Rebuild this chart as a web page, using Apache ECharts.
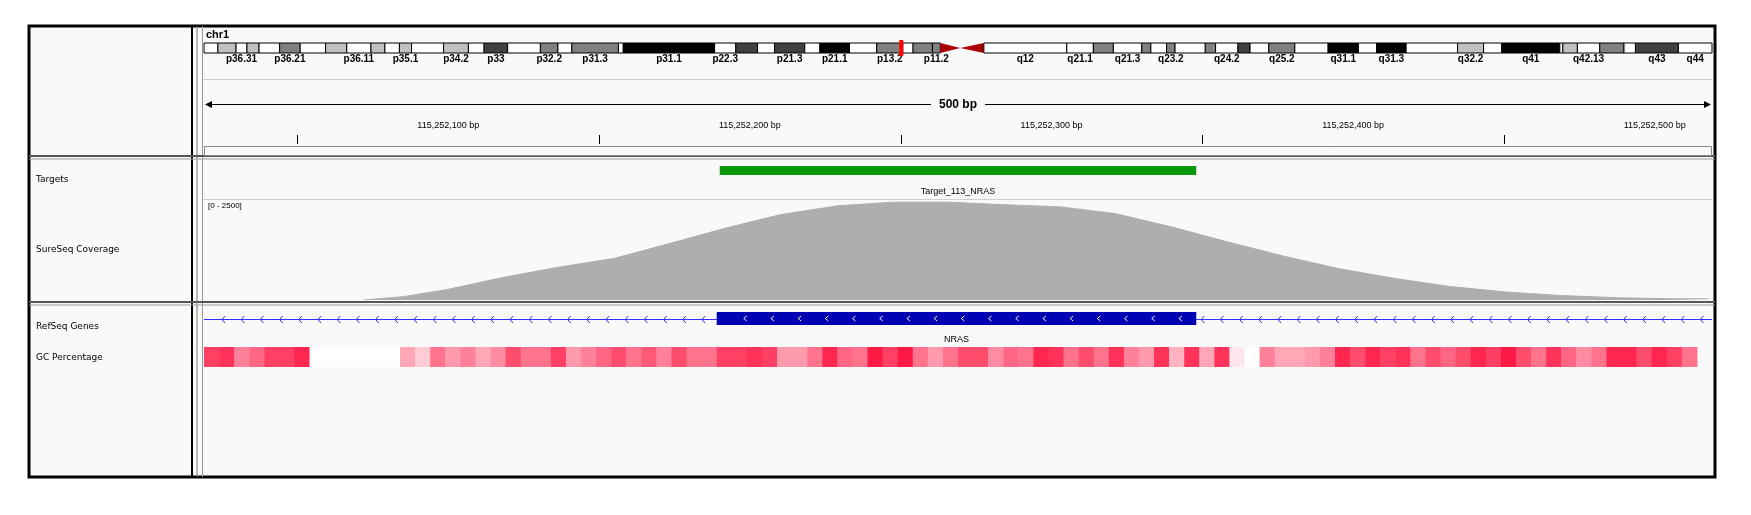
<!DOCTYPE html>
<html lang="en">
<head>
<meta charset="UTF-8" />
<title>IGV NRAS</title>
<script src="https://cdn.jsdelivr.net/npm/echarts@6/dist/echarts.min.js"></script>
<style>html,body{margin:0;background:#fff}</style>
</head>
<body>
<div id="main" style="width:1751px;height:515px;"></div>
<script>
// ---- data ----
var regionStart = 115252019, regionEnd = 115252519;
var rulerTicks = [115252050,115252150,115252250,115252350,115252450];
var rulerLabels = [115252100,115252200,115252300,115252400,115252500];

// chr1 cytobands (Mb)
var bandNames = ["p36.33","p36.32","p36.31","p36.23","p36.22","p36.21","p36.13","p36.12","p36.11","p35.3","p35.2","p35.1","p34.3","p34.2","p34.1","p33","p32.3","p32.2","p32.1","p31.3","p31.2","p31.1","p22.3","p22.2","p22.1","p21.3","p21.2","p21.1","p13.3","p13.2","p13.1","p12","p11.2","p11.1","q11","q12","q21.1","q21.2","q21.3","q22","q23.1","q23.2","q23.3","q24.1","q24.2","q24.3","q25.1","q25.2","q25.3","q31.1","q31.2","q31.3","q32.1","q32.2","q32.3","q41","q42.11","q42.12","q42.13","q42.2","q42.3","q43","q44"];
var bandStarts = [0,2.3,5.3,7.1,9.1,12.5,15.9,20.1,23.6,27.6,29.9,32.3,34.3,39.6,43.7,46.3,50.2,55.6,58.5,60.8,68.5,69.3,84.4,87.9,91.5,94.3,99.3,101.8,106.7,111.2,115.5,117.2,120.4,121.7,125,128.9,142.6,147,150.3,155,156.5,159.1,160.5,165.5,167.2,170.9,172.9,176,180.3,185.8,190.8,193.8,198.7,207.2,211.5,214.5,224.1,224.6,227,230.7,234.7,236.6,243.7];
var bandEnds = [2.3,5.3,7.1,9.1,12.5,15.9,20.1,23.6,27.6,29.9,32.3,34.3,39.6,43.7,46.3,50.2,55.6,58.5,60.8,68.5,69.3,84.4,87.9,91.5,94.3,99.3,101.8,106.7,111.2,115.5,117.2,120.4,121.7,125,128.9,142.6,147,150.3,155,156.5,159.1,160.5,165.5,167.2,170.9,172.9,176,180.3,185.8,190.8,193.8,198.7,207.2,211.5,214.5,224.1,224.6,227,230.7,234.7,236.6,243.7,249.25];
var bandStains = ["gneg","gpos25","gneg","gpos25","gneg","gpos50","gneg","gpos25","gneg","gpos25","gneg","gpos25","gneg","gpos25","gneg","gpos75","gneg","gpos50","gneg","gpos50","gneg","gpos100","gneg","gpos75","gneg","gpos75","gneg","gpos100","gneg","gpos50","gneg","gpos50","gpos50","acenR","acenL","gvar","gneg","gpos50","gneg","gpos50","gneg","gpos50","gneg","gpos50","gneg","gpos75","gneg","gpos50","gneg","gpos100","gneg","gpos100","gneg","gpos25","gneg","gpos100","gneg","gpos25","gneg","gpos50","gneg","gpos75","gneg"];
var shownBands = ["p36.31","p36.21","p36.11","p35.1","p34.2","p33","p32.2","p31.3","p31.1","p22.3","p21.3","p21.1","p13.2","p11.2","q12","q21.1","q21.3","q23.2","q24.2","q25.2","q31.1","q31.3","q32.2","q41","q42.13","q43","q44"];
var markerMb = 115.25;

var targetStart = 115252190, targetEnd = 115252348, targetName = "Target_113_NRAS";
var geneStart = 115252189, geneEnd = 115252348, geneName = "NRAS";

var covPos = [53,66,80,99,117,136,154,173,191,210,228,247,265,284,302,321,339,358,376,395,413,432,450,469,487,499];
var covVal = [0,83,250,555,805,1030,1390,1780,2110,2330,2420,2420,2360,2305,2140,1805,1445,1085,780,530,335,195,110,55,30,30];

var gcWindow = 5;
var gcVals = [0.75,0.8,0.5,0.6,0.75,0.75,0.85,0,0,0,0,0,0,0.35,0.2,0.55,0.4,0.5,0.35,0.45,
  0.7,0.55,0.55,0.75,0.4,0.5,0.6,0.7,0.55,0.65,0.5,0.7,0.55,0.55,0.75,0.75,0.8,0.75,0.4,0.4,
  0.55,0.85,0.6,0.55,0.9,0.75,0.9,0.55,0.4,0.55,0.7,0.7,0.45,0.6,0.55,0.85,0.8,0.55,0.7,0.55,
  0.8,0.5,0.4,0.8,0.3,0.8,0.35,0.8,0.1,0,0.5,0.35,0.35,0.4,0.5,0.85,0.7,0.85,0.75,0.8,
  0.55,0.7,0.6,0.7,0.85,0.75,0.9,0.7,0.55,0.8,0.6,0.45,0.55,0.85,0.85,0.7,0.85,0.75,0.55];

// ---- chart ----
var stainColor = {gneg:"#ffffff", gpos25:"#c0c0c0", gpos50:"#808080", gpos75:"#404040", gpos100:"#000000", gvar:"#ffffff"};
function gcColor(v) {
  var g = Math.round(255 * (1 - v)), b = Math.round(255 - (255 - 48) * v);
  return "rgb(255," + g + "," + b + ")";
}
var lab = {fontFamily: "DejaVu Sans", fontSize: 9, fill: "#000"};

var chart = echarts.init(document.getElementById("main"));
var gx = 204, gw = 1508;
var genomeAxis = {type: "value", min: regionStart, max: regionEnd, show: false};

var option = {
  animation: false,
  backgroundColor: "#ffffff",
  grid: [
    {left: gx, width: gw, top: 43, height: 10},
    {left: gx, width: gw, top: 0, height: 515},
    {left: gx, width: gw, top: 199, height: 101}
  ],
  xAxis: [
    {type: "value", min: 0, max: 249.25, show: false, gridIndex: 0},
    Object.assign({gridIndex: 1}, genomeAxis),
    Object.assign({gridIndex: 2}, genomeAxis)
  ],
  yAxis: [
    {type: "value", min: 0, max: 1, show: false, gridIndex: 0},
    {type: "value", min: 0, max: 515, inverse: true, show: false, gridIndex: 1},
    {type: "value", min: 0, max: 2500, show: false, gridIndex: 2}
  ],
  graphic: [
    {type: "rect", shape: {x: 29, y: 26, width: 1686, height: 451}, style: {fill: "#f9f9f9", stroke: "#000", lineWidth: 3}, z: -10},
    {type: "line", shape: {x1: 192, y1: 26, x2: 192, y2: 477}, style: {stroke: "#000", lineWidth: 2}},
    {type: "line", shape: {x1: 197, y1: 26, x2: 197, y2: 477}, style: {stroke: "#777", lineWidth: 1}},
    {type: "line", shape: {x1: 202.5, y1: 26, x2: 202.5, y2: 477}, style: {stroke: "#999", lineWidth: 1}},
    {type: "line", shape: {x1: 29, y1: 156, x2: 1715, y2: 156}, style: {stroke: "#555", lineWidth: 2}},
    {type: "line", shape: {x1: 29, y1: 159, x2: 1715, y2: 159}, style: {stroke: "#999", lineWidth: 1}},
    {type: "line", shape: {x1: 29, y1: 302, x2: 1715, y2: 302}, style: {stroke: "#555", lineWidth: 2}},
    {type: "line", shape: {x1: 29, y1: 305, x2: 1715, y2: 305}, style: {stroke: "#999", lineWidth: 1}},
    {type: "line", shape: {x1: 203, y1: 79.5, x2: 1712, y2: 79.5}, style: {stroke: "#d0d0d0", lineWidth: 1}},
    {type: "line", shape: {x1: 203, y1: 199.5, x2: 1712, y2: 199.5}, style: {stroke: "#d0d0d0", lineWidth: 1}},
    {type: "rect", shape: {x: 204.5, y: 146.5, width: 1507, height: 9}, style: {fill: "none", stroke: "#888", lineWidth: 1}},
    {type: "line", shape: {x1: 206, y1: 104.5, x2: 1710, y2: 104.5}, style: {stroke: "#000", lineWidth: 1}},
    {type: "polygon", shape: {points: [[205, 104.5], [212, 101], [212, 108]]}, style: {fill: "#000"}},
    {type: "polygon", shape: {points: [[1711, 104.5], [1704, 101], [1704, 108]]}, style: {fill: "#000"}},
    {type: "text", x: 958, y: 105, style: {text: "500 bp", fontFamily: "Liberation Sans", fontWeight: "bold", fontSize: 12, fill: "#000", align: "center", verticalAlign: "middle", backgroundColor: "#f9f9f9", padding: [0, 8]}},
    {type: "text", x: 206, y: 35, style: {text: "chr1", fontFamily: "Liberation Sans", fontWeight: "bold", fontSize: 11, fill: "#000", verticalAlign: "middle"}},
    {type: "text", x: 36, y: 180, style: Object.assign({text: "Targets", verticalAlign: "middle"}, lab)},
    {type: "text", x: 36, y: 250, style: Object.assign({text: "SureSeq Coverage", verticalAlign: "middle"}, lab)},
    {type: "text", x: 36, y: 327, style: Object.assign({text: "RefSeq Genes", verticalAlign: "middle"}, lab)},
    {type: "text", x: 36, y: 358, style: Object.assign({text: "GC Percentage", verticalAlign: "middle"}, lab)},
    {type: "text", x: 208, y: 206, style: {text: "[0 - 2500]", fontFamily: "Liberation Sans Narrow, Liberation Sans", fontSize: 8, fill: "#000", verticalAlign: "middle"}}
  ],
  series: [
    // ideogram
    {
      type: "custom", xAxisIndex: 0, yAxisIndex: 0,
      data: bandStarts.map(function (s, i) { return [s, bandEnds[i]]; }),
      renderItem: function (params, api) {
        var i = params.dataIndex, st = bandStains[i];
        var a = api.coord([api.value(0), 1]), b = api.coord([api.value(1), 0]);
        var children = [];
        if (st === "acenR" || st === "acenL") {
          var mid = (a[1] + b[1]) / 2;
          var pts = st === "acenR" ? [[a[0], a[1]], [b[0], mid], [a[0], b[1]]] : [[b[0], a[1]], [a[0], mid], [b[0], b[1]]];
          children.push({type: "polygon", shape: {points: pts}, style: {fill: "#a80000"}});
        } else {
          children.push({type: "rect", shape: {x: a[0], y: a[1], width: b[0] - a[0], height: b[1] - a[1]}, style: {fill: stainColor[st], stroke: "#000", lineWidth: 1}});
        }
        if (shownBands.indexOf(bandNames[i]) >= 0) {
          children.push({type: "text", x: (a[0] + b[0]) / 2, y: b[1] + 1, style: {text: bandNames[i], fontFamily: "Liberation Sans", fontWeight: "bold", fontSize: 10, fill: "#000", align: "center", verticalAlign: "top"}});
        }
        return {type: "group", children: children};
      }
    },
    {
      type: "custom", xAxisIndex: 0, yAxisIndex: 0, data: [[markerMb]],
      renderItem: function (params, api) {
        var p = api.coord([api.value(0), 1]), q = api.coord([api.value(0), 0]);
        return {type: "rect", shape: {x: p[0] - 2, y: p[1] - 3, width: 4, height: q[1] - p[1] + 6}, style: {fill: "#ff0000"}};
      }
    },
    // ruler ticks and labels
    {
      type: "custom", xAxisIndex: 1, yAxisIndex: 1, data: rulerTicks.map(function (t) { return [t]; }),
      renderItem: function (params, api) {
        var p = api.coord([api.value(0), 135]), q = api.coord([api.value(0), 144]);
        return {type: "line", shape: {x1: Math.round(p[0]) + 0.5, y1: p[1], x2: Math.round(p[0]) + 0.5, y2: q[1]}, style: {stroke: "#000", lineWidth: 1}};
      }
    },
    {
      type: "custom", xAxisIndex: 1, yAxisIndex: 1, data: rulerLabels.map(function (t) { return [t]; }),
      renderItem: function (params, api) {
        var v = api.value(0), p = api.coord([v, 126]);
        return {type: "text", x: p[0], y: p[1], style: {text: v.toLocaleString("en-US") + " bp", fontFamily: "Liberation Sans", fontSize: 9, fill: "#000", align: "center", verticalAlign: "middle"}};
      }
    },
    // target
    {
      type: "custom", xAxisIndex: 1, yAxisIndex: 1, data: [[targetStart, targetEnd]],
      renderItem: function (params, api) {
        var a = api.coord([api.value(0), 166]), b = api.coord([api.value(1), 175]);
        return {type: "group", children: [
          {type: "rect", shape: {x: a[0], y: a[1], width: b[0] - a[0], height: b[1] - a[1]}, style: {fill: "#0b990b"}},
          {type: "text", x: (a[0] + b[0]) / 2, y: 192, style: {text: targetName, fontFamily: "Liberation Sans", fontSize: 9, fill: "#000", align: "center", verticalAlign: "middle"}}
        ]};
      }
    },
    // gene
    {
      type: "custom", xAxisIndex: 1, yAxisIndex: 1, data: [[geneStart, geneEnd]],
      renderItem: function (params, api) {
        var l = api.coord([regionStart, 319]), r = api.coord([regionEnd, 319]);
        var a = api.coord([api.value(0), 312]), b = api.coord([api.value(1), 325]);
        var ch = [{type: "line", shape: {x1: l[0], y1: 319.5, x2: r[0], y2: 319.5}, style: {stroke: "#3030ff", lineWidth: 1}}];
        for (var x = l[0] + 19; x < r[0]; x += 19.2) {
          if (x > a[0] - 4 && x < b[0] + 4) continue;
          ch.push({type: "polyline", shape: {points: [[x + 2, 316], [x - 1, 319.5], [x + 2, 323]]}, style: {stroke: "#3030ff", lineWidth: 1, fill: "none"}});
        }
        ch.push({type: "rect", shape: {x: a[0], y: a[1], width: b[0] - a[0], height: b[1] - a[1]}, style: {fill: "#0000b4"}});
        for (var y = a[0] + 28; y < b[0] - 10; y += 27.2) {
          ch.push({type: "polyline", shape: {points: [[y + 2, 316], [y - 1, 318.5], [y + 2, 321]]}, style: {stroke: "#fff", lineWidth: 1, fill: "none"}});
        }
        ch.push({type: "text", x: (a[0] + b[0]) / 2, y: 340, style: {text: geneName, fontFamily: "Liberation Sans", fontSize: 9, fill: "#000", align: "center", verticalAlign: "middle"}});
        return {type: "group", children: ch};
      }
    },
    // GC percentage
    {
      type: "custom", xAxisIndex: 1, yAxisIndex: 1,
      data: gcVals.map(function (v, k) { return [regionStart + k * gcWindow, regionStart + (k + 1) * gcWindow, v]; }),
      renderItem: function (params, api) {
        var a = api.coord([api.value(0), 347]), b = api.coord([api.value(1), 367]);
        return {type: "rect", shape: {x: a[0], y: a[1], width: b[0] - a[0] + 0.5, height: b[1] - a[1]}, style: {fill: gcColor(api.value(2))}};
      }
    },
    // coverage
    {
      type: "line", xAxisIndex: 2, yAxisIndex: 2, smooth: false, showSymbol: false,
      data: covPos.map(function (p, i) { return [regionStart + p, covVal[i]]; }),
      lineStyle: {color: "#aeaeae", width: 1}, areaStyle: {color: "#aeaeae", opacity: 1}
    }
  ]
};
chart.setOption(option);
</script>
</body>
</html>
